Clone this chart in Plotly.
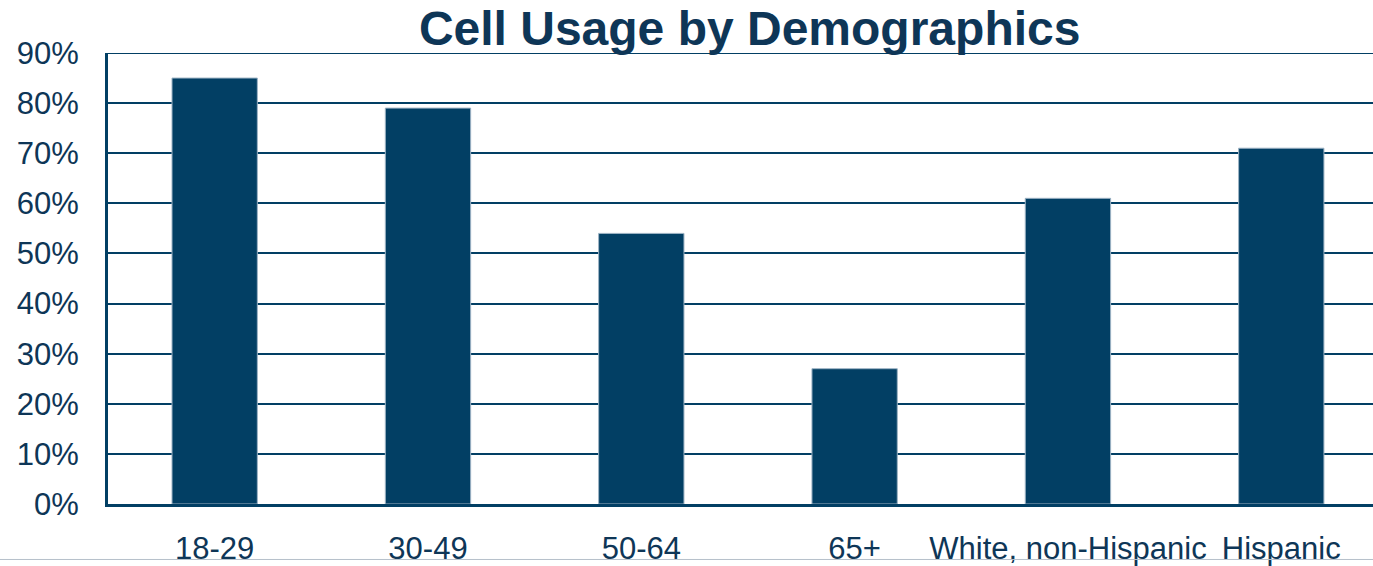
import plotly.graph_objects as go

categories = ["18-29", "30-49", "50-64", "65+", "White, non-Hispanic", "Hispanic"]
values = [85, 79, 54, 27, 61, 71]
y_ticks = [0, 10, 20, 30, 40, 50, 60, 70, 80, 90]
y_tick_labels = ["0%", "10%", "20%", "30%", "40%", "50%", "60%", "70%", "80%", "90%"]

navy = "#023F64"
text_col = "#0E3657"

fig = go.Figure(go.Bar(
    x=categories, y=values,
    marker=dict(color=navy, line=dict(color="#9DB3C4", width=1)),
    width=0.4,
))

fig.update_layout(
    width=1373, height=566,
    margin=dict(l=108, r=0, t=53, b=59),
    paper_bgcolor="white", plot_bgcolor="white",
    font=dict(family="Liberation Sans, Arial, sans-serif", color=text_col, size=31),
    title=dict(text="<b>Cell Usage by Demographics</b>", x=0.546, xref="container", xanchor="center",
               y=0.95, yref="container", yanchor="middle",
               font=dict(size=48, color=text_col)),
    showlegend=False,
)
fig.update_xaxes(
    range=[-0.5, 5.43], showgrid=False, showline=True, linecolor=navy, linewidth=3,
    ticks="", tickfont=dict(size=31, color=text_col), ticklabelstandoff=15,
)
fig.update_yaxes(
    range=[0, 90], tickmode="array", tickvals=y_ticks, ticktext=y_tick_labels,
    showgrid=True, gridcolor=navy, gridwidth=2,
    showline=True, linecolor=navy, linewidth=3, zeroline=False, ticks="",
    tickfont=dict(size=31, color=text_col), ticklabelstandoff=20,
)
# top gridline at 90% (plotly omits gridlines at the range edge)
fig.add_shape(type="line", xref="paper", yref="y", x0=0, x1=1, y0=y_ticks[-1], y1=y_ticks[-1],
              line=dict(color=navy, width=2))
fig.add_shape(type="line", xref="paper", yref="paper", x0=-0.1, x1=1.0, y0=-0.123, y1=-0.123,
              line=dict(color="#B5C0CA", width=1))

fig.write_html("out.html", config={"displayModeBar": False},
               post_script="document.body.style.margin='0';document.body.style.overflow='hidden';")
